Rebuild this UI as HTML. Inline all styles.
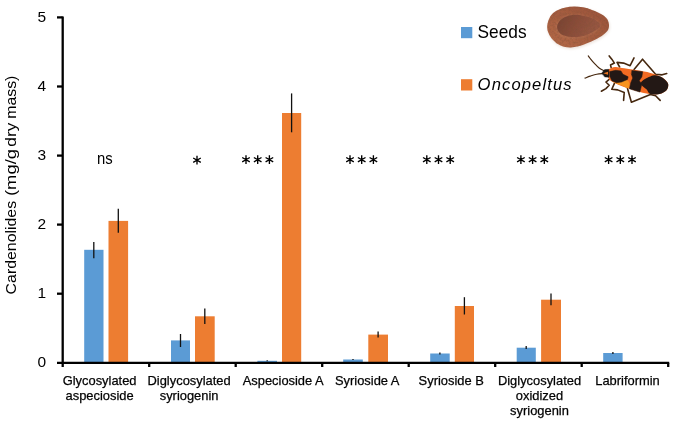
<!DOCTYPE html>
<html><head><meta charset="utf-8"><title>Cardenolides chart</title>
<style>
html,body{margin:0;padding:0;background:#fff;}
body{width:673px;height:422px;overflow:hidden;font-family:"Liberation Sans",sans-serif;}
svg{display:block;will-change:transform;}
text{font-family:"Liberation Sans",sans-serif;fill:#000;}
</style></head><body>
<svg width="673" height="422" viewBox="0 0 673 422">
<rect x="0" y="0" width="673" height="422" fill="#ffffff"/>

<g shape-rendering="auto">
<rect x="84.2" y="249.8" width="19.3" height="113.0" fill="#5B9BD5"/>
<rect x="108.5" y="220.9" width="19.6" height="141.9" fill="#ED7D31"/>
<rect x="171" y="340.4" width="19.0" height="22.4" fill="#5B9BD5"/>
<rect x="195" y="316.3" width="19.7" height="46.5" fill="#ED7D31"/>
<rect x="257.4" y="360.8" width="19.6" height="2.0" fill="#5B9BD5"/>
<rect x="282" y="113" width="19.2" height="249.8" fill="#ED7D31"/>
<rect x="343.2" y="359.5" width="19.6" height="3.3" fill="#5B9BD5"/>
<rect x="368.3" y="334.6" width="19.7" height="28.2" fill="#ED7D31"/>
<rect x="430.2" y="353.5" width="19.5" height="9.3" fill="#5B9BD5"/>
<rect x="454.8" y="306" width="19.2" height="56.8" fill="#ED7D31"/>
<rect x="516.7" y="347.7" width="19.1" height="15.1" fill="#5B9BD5"/>
<rect x="541.1" y="299.7" width="19.9" height="63.1" fill="#ED7D31"/>
<rect x="603.2" y="353" width="19.4" height="9.8" fill="#5B9BD5"/>
</g>
<g stroke="#111" stroke-width="1.3">
<line x1="93.8" y1="242" x2="93.8" y2="258.3"/>
<line x1="118.3" y1="208.8" x2="118.3" y2="232.7"/>
<line x1="180.5" y1="334" x2="180.5" y2="347"/>
<line x1="204.8" y1="308.5" x2="204.8" y2="324"/>
<line x1="267.2" y1="360.3" x2="267.2" y2="361.3"/>
<line x1="291.6" y1="93.4" x2="291.6" y2="132.3"/>
<line x1="353.0" y1="359" x2="353.0" y2="360"/>
<line x1="378.1" y1="331.6" x2="378.1" y2="337.4"/>
<line x1="439.9" y1="352.6" x2="439.9" y2="354.4"/>
<line x1="464.4" y1="297.2" x2="464.4" y2="314.5"/>
<line x1="526.2" y1="346" x2="526.2" y2="349"/>
<line x1="551.0" y1="293.4" x2="551.0" y2="305.2"/>
<line x1="612.9" y1="352" x2="612.9" y2="354"/>
</g>
<g stroke="#000" stroke-width="2.3" fill="none">
<line x1="62.7" y1="16.6" x2="62.7" y2="363.8"/>
<line x1="57" y1="362.8" x2="669.2" y2="362.8"/>
<line x1="57" y1="293.7" x2="62.7" y2="293.7"/>
<line x1="57" y1="224.6" x2="62.7" y2="224.6"/>
<line x1="57" y1="155.6" x2="62.7" y2="155.6"/>
<line x1="57" y1="86.5" x2="62.7" y2="86.5"/>
<line x1="57" y1="17.4" x2="62.7" y2="17.4"/>
<line x1="62.7" y1="362.8" x2="62.7" y2="367"/>
<line x1="149.2" y1="362.8" x2="149.2" y2="367"/>
<line x1="235.7" y1="362.8" x2="235.7" y2="367"/>
<line x1="322.2" y1="362.8" x2="322.2" y2="367"/>
<line x1="408.7" y1="362.8" x2="408.7" y2="367"/>
<line x1="495.2" y1="362.8" x2="495.2" y2="367"/>
<line x1="581.7" y1="362.8" x2="581.7" y2="367"/>
<line x1="668.2" y1="362.8" x2="668.2" y2="367"/>
</g>
<text x="46.2" y="367.3" font-size="15.5" text-anchor="end">0</text>
<text x="46.2" y="298.2" font-size="15.5" text-anchor="end">1</text>
<text x="46.2" y="229.1" font-size="15.5" text-anchor="end">2</text>
<text x="46.2" y="160.1" font-size="15.5" text-anchor="end">3</text>
<text x="46.2" y="91.0" font-size="15.5" text-anchor="end">4</text>
<text x="46.2" y="21.9" font-size="15.5" text-anchor="end">5</text>
<text transform="translate(16.0,294.4) rotate(-90)" font-size="15.5" textLength="93.5" lengthAdjust="spacingAndGlyphs">Cardenolides</text>
<text transform="translate(16.0,196) rotate(-90)" font-size="15.5" textLength="47" lengthAdjust="spacingAndGlyphs">(mg/g</text>
<text transform="translate(16.0,146.7) rotate(-90)" font-size="15.5" textLength="24" lengthAdjust="spacingAndGlyphs">dry</text>
<text transform="translate(16.0,118.8) rotate(-90)" font-size="15.5" textLength="43.2" lengthAdjust="spacingAndGlyphs">mass)</text>
<text x="99.6" y="385.0" font-size="12.9" text-anchor="middle" fill="#0a0a0a" stroke="#0a0a0a" stroke-width="0.25">Glycosylated</text>
<text x="99.6" y="400.2" font-size="12.9" text-anchor="middle" fill="#0a0a0a" stroke="#0a0a0a" stroke-width="0.25">aspecioside</text>
<text x="189.1" y="385.0" font-size="12.9" text-anchor="middle" fill="#0a0a0a" stroke="#0a0a0a" stroke-width="0.25">Diglycosylated</text>
<text x="189.1" y="400.2" font-size="12.9" text-anchor="middle" fill="#0a0a0a" stroke="#0a0a0a" stroke-width="0.25">syriogenin</text>
<text x="283.2" y="385.0" font-size="12.9" text-anchor="middle" fill="#0a0a0a" stroke="#0a0a0a" stroke-width="0.25">Aspecioside A</text>
<text x="367.2" y="385.0" font-size="12.9" text-anchor="middle" fill="#0a0a0a" stroke="#0a0a0a" stroke-width="0.25">Syrioside A</text>
<text x="451.2" y="385.0" font-size="12.9" text-anchor="middle" fill="#0a0a0a" stroke="#0a0a0a" stroke-width="0.25">Syrioside B</text>
<text x="539.5" y="385.0" font-size="12.9" text-anchor="middle" fill="#0a0a0a" stroke="#0a0a0a" stroke-width="0.25">Diglycosylated</text>
<text x="539.5" y="400.2" font-size="12.9" text-anchor="middle" fill="#0a0a0a" stroke="#0a0a0a" stroke-width="0.25">oxidized</text>
<text x="539.5" y="415.4" font-size="12.9" text-anchor="middle" fill="#0a0a0a" stroke="#0a0a0a" stroke-width="0.25">syriogenin</text>
<text x="627.5" y="385.0" font-size="12.9" text-anchor="middle" fill="#0a0a0a" stroke="#0a0a0a" stroke-width="0.25">Labriformin</text>
<text x="97" y="164" font-size="17.3" textLength="15.7" lengthAdjust="spacingAndGlyphs">ns</text>
<path d="M197.00 155.80L197.00 164.60M193.19 158.00L200.81 162.40M200.81 158.00L193.19 162.40M246.00 155.30L246.00 164.10M242.19 157.50L249.81 161.90M249.81 157.50L242.19 161.90M257.70 155.30L257.70 164.10M253.89 157.50L261.51 161.90M261.51 157.50L253.89 161.90M269.40 155.30L269.40 164.10M265.59 157.50L273.21 161.90M273.21 157.50L265.59 161.90M350.00 155.30L350.00 164.10M346.19 157.50L353.81 161.90M353.81 157.50L346.19 161.90M361.70 155.30L361.70 164.10M357.89 157.50L365.51 161.90M365.51 157.50L357.89 161.90M373.40 155.30L373.40 164.10M369.59 157.50L377.21 161.90M377.21 157.50L369.59 161.90M426.80 155.30L426.80 164.10M422.99 157.50L430.61 161.90M430.61 157.50L422.99 161.90M438.50 155.30L438.50 164.10M434.69 157.50L442.31 161.90M442.31 157.50L434.69 161.90M450.20 155.30L450.20 164.10M446.39 157.50L454.01 161.90M454.01 157.50L446.39 161.90M520.90 155.30L520.90 164.10M517.09 157.50L524.71 161.90M524.71 157.50L517.09 161.90M532.60 155.30L532.60 164.10M528.79 157.50L536.41 161.90M536.41 157.50L528.79 161.90M544.30 155.30L544.30 164.10M540.49 157.50L548.11 161.90M548.11 157.50L540.49 161.90M608.60 155.30L608.60 164.10M604.79 157.50L612.41 161.90M612.41 157.50L604.79 161.90M620.30 155.30L620.30 164.10M616.49 157.50L624.11 161.90M624.11 157.50L616.49 161.90M632.00 155.30L632.00 164.10M628.19 157.50L635.81 161.90M635.81 157.50L628.19 161.90" stroke="#000" stroke-width="1.35" fill="none"/>
<rect x="461" y="27" width="11.3" height="11.2" fill="#5B9BD5"/>
<rect x="461" y="79.2" width="11.3" height="11.3" fill="#ED7D31"/>
<text x="477.6" y="37.9" font-size="18.5" textLength="49" lengthAdjust="spacingAndGlyphs">Seeds</text>
<text x="477.6" y="90" font-size="16.6" font-style="italic" textLength="94" lengthAdjust="spacing">Oncopeltus</text>
<defs>
<filter id="sb" x="-10%" y="-10%" width="120%" height="120%"><feGaussianBlur stdDeviation="0.6"/></filter>
<filter id="sb2" x="-10%" y="-10%" width="120%" height="120%"><feGaussianBlur stdDeviation="0.8"/></filter>
<filter id="sh" x="-20%" y="-20%" width="140%" height="140%"><feGaussianBlur stdDeviation="1.5"/></filter>
<filter id="tx" x="0" y="0" width="100%" height="100%"><feTurbulence type="fractalNoise" baseFrequency="0.45" numOctaves="2" seed="7" result="n"/><feColorMatrix in="n" type="matrix" values="0 0 0 0 0.2  0 0 0 0 0.08  0 0 0 0 0.04  1.6 0 0 0 -0.62" result="m"/><feComposite in="m" in2="SourceGraphic" operator="in"/></filter>
<linearGradient id="sg" x1="0.9" y1="0.1" x2="0.1" y2="0.9"><stop offset="0" stop-color="#9c553a"/><stop offset="0.55" stop-color="#a65d40"/><stop offset="1" stop-color="#b36846"/></linearGradient>
<linearGradient id="sg2" x1="0" y1="0.3" x2="1" y2="0.6"><stop offset="0" stop-color="#784232"/><stop offset="0.45" stop-color="#8b4d39"/><stop offset="1" stop-color="#995843"/></linearGradient>
</defs>
<g>
<path d="M547.20 27.00C547.25 24.92 547.77 22.17 548.60 20.00C549.43 17.83 550.63 15.67 552.20 14.00C553.77 12.33 555.78 11.10 558.00 10.00C560.22 8.90 562.83 7.98 565.50 7.40C568.17 6.82 571.08 6.52 574.00 6.50C576.92 6.48 580.00 6.73 583.00 7.30C586.00 7.87 589.08 8.82 592.00 9.90C594.92 10.98 598.08 12.42 600.50 13.80C602.92 15.18 605.10 16.50 606.50 18.20C607.90 19.90 608.65 22.03 608.90 24.00C609.15 25.97 608.98 28.17 608.00 30.00C607.02 31.83 605.08 33.42 603.00 35.00C600.92 36.58 598.17 38.12 595.50 39.50C592.83 40.88 589.83 42.17 587.00 43.30C584.17 44.43 581.25 45.60 578.50 46.30C575.75 47.00 573.08 47.48 570.50 47.50C567.92 47.52 565.33 47.12 563.00 46.40C560.67 45.68 558.42 44.55 556.50 43.20C554.58 41.85 552.87 40.08 551.50 38.30C550.13 36.52 549.02 34.38 548.30 32.50C547.58 30.62 547.15 29.08 547.20 27.00Z" fill="#eadfd8" filter="url(#sh)" transform="translate(0.6,1.2)"/>
<path d="M547.20 27.00C547.25 24.92 547.77 22.17 548.60 20.00C549.43 17.83 550.63 15.67 552.20 14.00C553.77 12.33 555.78 11.10 558.00 10.00C560.22 8.90 562.83 7.98 565.50 7.40C568.17 6.82 571.08 6.52 574.00 6.50C576.92 6.48 580.00 6.73 583.00 7.30C586.00 7.87 589.08 8.82 592.00 9.90C594.92 10.98 598.08 12.42 600.50 13.80C602.92 15.18 605.10 16.50 606.50 18.20C607.90 19.90 608.65 22.03 608.90 24.00C609.15 25.97 608.98 28.17 608.00 30.00C607.02 31.83 605.08 33.42 603.00 35.00C600.92 36.58 598.17 38.12 595.50 39.50C592.83 40.88 589.83 42.17 587.00 43.30C584.17 44.43 581.25 45.60 578.50 46.30C575.75 47.00 573.08 47.48 570.50 47.50C567.92 47.52 565.33 47.12 563.00 46.40C560.67 45.68 558.42 44.55 556.50 43.20C554.58 41.85 552.87 40.08 551.50 38.30C550.13 36.52 549.02 34.38 548.30 32.50C547.58 30.62 547.15 29.08 547.20 27.00Z" fill="url(#sg)" filter="url(#sb)"/>
<path d="M557.10 26.90C557.10 24.72 558.48 22.12 560.30 20.30C562.12 18.48 564.90 16.90 568.00 16.00C571.10 15.10 575.27 14.63 578.90 14.90C582.53 15.17 586.72 16.52 589.80 17.60C592.88 18.68 595.60 20.13 597.40 21.40C599.20 22.67 600.60 23.92 600.60 25.20C600.60 26.48 599.20 27.73 597.40 29.10C595.60 30.47 592.70 32.13 589.80 33.40C586.90 34.67 583.45 36.15 580.00 36.70C576.55 37.25 572.38 37.25 569.10 36.70C565.82 36.15 562.30 35.03 560.30 33.40C558.30 31.77 557.10 29.08 557.10 26.90Z" fill="none" stroke="#c07f60" stroke-width="1.6" opacity="0.55" filter="url(#sb2)" transform="translate(-0.6,0.7)"/>
<path d="M557.10 26.90C557.10 24.72 558.48 22.12 560.30 20.30C562.12 18.48 564.90 16.90 568.00 16.00C571.10 15.10 575.27 14.63 578.90 14.90C582.53 15.17 586.72 16.52 589.80 17.60C592.88 18.68 595.60 20.13 597.40 21.40C599.20 22.67 600.60 23.92 600.60 25.20C600.60 26.48 599.20 27.73 597.40 29.10C595.60 30.47 592.70 32.13 589.80 33.40C586.90 34.67 583.45 36.15 580.00 36.70C576.55 37.25 572.38 37.25 569.10 36.70C565.82 36.15 562.30 35.03 560.30 33.40C558.30 31.77 557.10 29.08 557.10 26.90Z" fill="url(#sg2)" filter="url(#sb)"/>
<path d="M547.20 27.00C547.25 24.92 547.77 22.17 548.60 20.00C549.43 17.83 550.63 15.67 552.20 14.00C553.77 12.33 555.78 11.10 558.00 10.00C560.22 8.90 562.83 7.98 565.50 7.40C568.17 6.82 571.08 6.52 574.00 6.50C576.92 6.48 580.00 6.73 583.00 7.30C586.00 7.87 589.08 8.82 592.00 9.90C594.92 10.98 598.08 12.42 600.50 13.80C602.92 15.18 605.10 16.50 606.50 18.20C607.90 19.90 608.65 22.03 608.90 24.00C609.15 25.97 608.98 28.17 608.00 30.00C607.02 31.83 605.08 33.42 603.00 35.00C600.92 36.58 598.17 38.12 595.50 39.50C592.83 40.88 589.83 42.17 587.00 43.30C584.17 44.43 581.25 45.60 578.50 46.30C575.75 47.00 573.08 47.48 570.50 47.50C567.92 47.52 565.33 47.12 563.00 46.40C560.67 45.68 558.42 44.55 556.50 43.20C554.58 41.85 552.87 40.08 551.50 38.30C550.13 36.52 549.02 34.38 548.30 32.50C547.58 30.62 547.15 29.08 547.20 27.00Z" fill="#000" filter="url(#tx)" opacity="0.55"/>
</g>
<g stroke-linejoin="round" stroke-linecap="round"><g fill="none" stroke="#46280f" stroke-width="1.6"><path d="M604.61 70.92C603.74 70.48 601.13 69.61 599.38 68.31C597.64 67.00 595.68 64.71 594.15 63.08C592.63 61.44 591.21 59.70 590.23 58.50C589.25 57.30 588.60 56.32 588.27 55.88" stroke-width="1.15"/><path d="M603.31 73.54C602.22 73.64 598.95 73.75 596.77 74.19C594.59 74.63 592.19 75.50 590.23 76.15C588.27 76.80 585.87 77.79 585.00 78.11" stroke-width="1.15"/><path d="M611.15 67.65L610.50 65.04L614.42 63.08L611.80 59.15L609.19 55.88"/><path d="M609.19 79.42L605.92 82.03L609.19 85.30L605.92 88.57L601.34 91.19"/><path d="M619.65 67.00L617.03 62.42L623.57 63.08L630.11 65.69L634.03 57.85"/><path d="M614.42 83.34L611.80 89.23L617.69 89.88L624.23 92.49L623.57 100.34"/><path d="M634.03 69.61L642.53 59.15L655.61 74.19L662.14 74.84L666.72 73.54"/><path d="M627.49 88.57L631.42 102.30L650.38 94.46L655.61 95.76L660.18 100.34"/></g><path d="M608.54 69.61C609.80 68.52 612.46 67.22 615.07 67.00C617.69 66.78 620.52 67.76 624.23 68.31C627.93 68.85 632.94 69.50 637.30 70.27C641.66 71.03 646.45 71.79 650.38 72.88C654.30 73.97 658.11 75.39 660.84 76.80C663.56 78.22 665.48 79.96 666.72 81.38C667.96 82.80 668.36 83.78 668.29 85.30C668.22 86.83 667.79 89.07 666.33 90.53C664.87 91.99 662.19 93.48 659.53 94.06C656.87 94.65 653.65 94.39 650.38 94.06C647.11 93.74 643.40 92.97 639.92 92.10C636.43 91.23 632.94 90.03 629.46 88.83C625.97 87.64 622.05 86.22 619.00 84.91C615.94 83.60 612.94 82.19 611.15 80.99C609.36 79.79 608.88 78.96 608.27 77.72C607.66 76.48 607.45 74.89 607.49 73.54C607.53 72.18 607.27 70.70 608.54 69.61Z" fill="#f26a22"/><path d="M613.11 81.38C612.89 80.44 616.49 79.53 619.00 79.42C621.50 79.31 626.51 79.31 628.15 80.73C629.78 82.14 630.11 87.20 628.80 87.92C627.49 88.64 622.92 86.13 620.30 85.04C617.69 83.95 613.33 82.32 613.11 81.38Z" fill="#f7931e"/><path d="M601.74 73.01L604.61 69.61L608.80 69.35L609.06 77.20L604.87 76.94Z" fill="#1c1714" stroke="#1c1714" stroke-width="0.4"/><path d="M603.31 73.27L608.01 71.71L608.01 74.84Z" fill="#e8731f"/><path d="M609.84 71.57L615.73 70.27L620.96 70.92L622.92 74.19L628.15 76.80L627.49 79.42L621.61 82.03L616.38 82.69L611.80 80.73L609.84 76.15Z" fill="#231815" stroke="#231815" stroke-width="0.5"/><path d="M632.07 70.53L642.66 71.71L641.88 76.80L639.26 80.73L641.88 84.00L639.92 92.10L629.46 88.83L630.76 82.69L632.72 78.11L631.42 74.19Z" fill="#231815" stroke="#231815" stroke-width="0.5"/><path d="M642.53 80.73C644.49 79.20 649.94 76.15 652.99 75.50C656.04 74.84 658.55 75.82 660.84 76.80C663.12 77.79 665.48 79.96 666.72 81.38C667.96 82.80 668.36 83.78 668.29 85.30C668.22 86.83 667.79 89.07 666.33 90.53C664.87 91.99 662.19 93.48 659.53 94.06C656.87 94.65 652.56 94.87 650.38 94.06C648.20 93.26 647.98 90.79 646.45 89.23C644.93 87.66 641.88 86.07 641.22 84.65C640.57 83.23 640.57 82.25 642.53 80.73Z" fill="#231815"/></g>
</svg></body></html>
